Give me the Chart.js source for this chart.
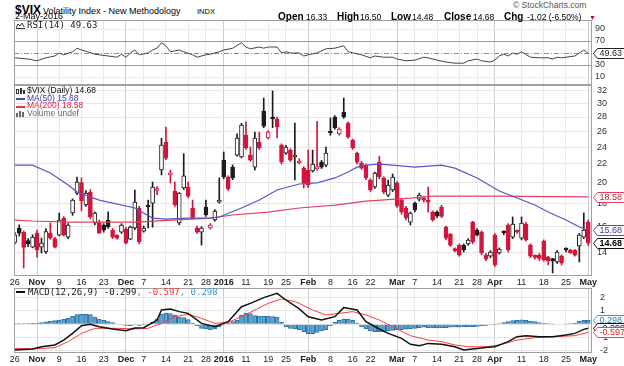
<!DOCTYPE html>
<html><head><meta charset="utf-8">
<script src="https://cdn.jsdelivr.net/npm/chart.js@4.4.1/dist/chart.umd.min.js"></script>
<style>
html,body{margin:0;padding:0;background:#fff;}
body{width:624px;height:366px;position:relative;overflow:hidden;font-family:"Liberation Sans",Arial,sans-serif;color:#000;}
canvas{position:absolute;left:0;}
.t{position:absolute;white-space:nowrap;}
.m{font-family:"DejaVu Sans Mono",monospace;}
.ib{display:inline-block;}
</style></head><body>
<canvas id="rsi" width="624" height="65" style="top:20px"></canvas>
<canvas id="main" width="624" height="205" style="top:85px"></canvas>
<canvas id="macd" width="624" height="78" style="top:288px"></canvas>

<div class="t" style="left:15px;top:1px;line-height:15px;">
 <span class="ib" style="width:28px;font-size:12px;font-weight:bold;">$VIX</span><span class="ib" style="width:154px;font-size:9px;">Volatility Index - New Methodology</span><span class="ib" style="font-size:7.5px;">INDX</span>
</div>
<div class="t" style="left:15px;top:11px;line-height:10px;font-size:9px;">2-May-2016</div>
<div class="t" style="left:513px;top:1px;line-height:9px;font-size:8.5px;color:#555;">© StockCharts.com</div>
<div class="t" style="left:278px;top:9px;line-height:12px;">
 <span class="ib" style="width:28px;font-size:10px;font-weight:bold;">Open</span><span class="ib" style="width:31px;font-size:8.5px;">16.33</span><span class="ib" style="width:23px;font-size:10px;font-weight:bold;">High</span><span class="ib" style="width:31px;font-size:8.5px;">16.50</span><span class="ib" style="width:21px;font-size:10px;font-weight:bold;">Low</span><span class="ib" style="width:32px;font-size:8.5px;">14.48</span><span class="ib" style="width:29px;font-size:10px;font-weight:bold;">Close</span><span class="ib" style="width:31px;font-size:8.5px;">14.68</span><span class="ib" style="width:23px;font-size:10px;font-weight:bold;">Chg</span><span class="ib" style="width:62px;font-size:8.5px;">-1.02 (-6.50%)</span><span class="ib" style="font-size:7px;color:#c0102a;">▼</span>
</div>

<svg style="position:absolute;left:16px;top:22px" width="10" height="7"><polyline points="0,6 2,2 4,4 6,1 8,5" fill="none" stroke="#333" stroke-width="1"/><line x1="0" y1="6.5" x2="9" y2="6.5" stroke="#333"/></svg>
<div class="t m" style="left:27px;top:20px;line-height:10px;font-size:9px;color:#222;">RSI(14) 49.63</div>

<svg style="position:absolute;left:16px;top:88px" width="10" height="7"><rect x="0.5" y="1.5" width="2" height="4" fill="#fff" stroke="#333" stroke-width="1"/><rect x="4" y="0" width="2" height="6" fill="#333"/><rect x="7" y="2" width="2" height="4" fill="#333"/></svg>
<div class="t" style="left:16px;top:98px;width:9px;height:1.5px;background:#4a4ac0;"></div>
<div class="t" style="left:16px;top:106px;width:9px;height:1.5px;background:#e0304e;"></div>
<svg style="position:absolute;left:16px;top:111px" width="10" height="6"><rect x="0" y="2" width="2" height="4" fill="#666"/><rect x="3" y="0" width="2" height="6" fill="#666"/><rect x="6" y="1" width="2" height="5" fill="#666"/></svg>
<div class="t" style="left:27px;top:87.3px;line-height:7.6px;font-size:8.5px;">
 <div style="color:#111;">$VIX (Daily) 14.68</div>
 <div style="color:#3a3ab0;">MA(50) 15.68</div>
 <div style="color:#e0203c;">MA(200) 18.58</div>
 <div style="color:#666;">Volume undef</div>
</div>

<div class="t" style="left:16px;top:291px;width:9px;height:1.5px;background:#111;"></div>
<div class="t m" style="left:28px;top:287px;line-height:10px;font-size:9px;"><span style="color:#222">MACD(12,26,9) -0.299</span><span style="color:#ff3030">, -0.597</span><span style="color:#3d9ad6">, 0.298</span></div>

<script>
// ---------- data ----------
const tickIdx    = [0,5,10,15,20,25,29,34,39,43,47,52,57,61,66,71,76,80,86,90,95,100,104,108,114,119,124,129];
const tickLabels = ['26','Nov','9','16','23','Dec','7','14','21','28','2016','11','19','25','Feb','8','16','22','Mar','7','14','21','28','Apr','11','18','25','May'];
const monthIdx   = [5,25,47,66,86,108,129];

const open  = [14.70,15.84,15.50,14.85,14.36,15.43,14.36,14.00,15.43,15.00,15.27,16.67,15.12,17.11,18.95,20.00,17.82,19.05,16.25,16.33,16.08,16.50,15.67,15.27,15.51,15.75,14.96,15.84,17.55,15.59,17.70,18.00,19.20,21.33,24.63,20.80,19.15,16.25,19.45,19.55,17.55,15.84,15.51,17.64,15.84,16.50,18.09,22.45,20.58,21.65,23.03,22.80,25.53,23.03,21.65,24.63,28.88,25.14,27.80,27.72,24.25,23.27,23.63,22.80,22.11,21.54,21.33,21.22,21.45,22.22,21.87,25.90,28.00,25.66,28.73,27.15,24.88,23.27,22.11,21.87,20.26,19.55,22.22,20.48,18.75,19.25,19.96,18.28,17.55,16.33,18.00,18.37,18.47,18.15,17.19,17.19,17.64,15.92,15.35,14.20,14.51,14.51,14.59,16.33,15.67,15.51,13.78,13.71,15.27,13.93,15.50,16.08,15.12,15.55,15.04,16.17,14.51,13.66,13.78,14.81,13.64,13.50,13.30,13.71,14.18,14.15,14.12,14.44,15.12,16.33];
const high  = [15.50,16.10,15.60,15.00,15.30,15.67,15.04,15.80,16.25,15.10,17.10,16.80,16.20,18.40,20.58,20.50,19.20,19.30,17.20,16.50,16.20,17.20,15.80,15.30,16.20,15.90,16.00,19.25,17.70,16.00,18.28,20.06,19.60,25.10,26.60,21.33,20.06,19.00,23.20,20.06,18.28,16.00,15.95,18.28,16.20,17.40,20.48,23.40,20.70,21.90,25.70,27.10,27.30,24.00,25.90,25.90,30.87,26.10,32.00,28.00,24.40,24.20,23.80,27.15,22.60,21.70,23.63,23.63,27.40,22.40,24.00,27.86,28.20,26.50,30.87,27.30,25.00,23.40,22.30,22.00,20.40,21.10,22.90,20.60,20.26,20.90,20.10,18.40,17.70,17.20,18.10,18.95,18.60,19.55,17.30,17.30,17.80,16.00,15.40,14.30,14.60,14.60,15.00,16.40,15.80,15.60,13.90,14.10,15.40,14.30,15.60,16.20,16.76,15.70,16.76,16.30,14.60,13.80,13.90,14.90,13.70,13.55,14.10,13.80,14.30,14.20,14.20,15.40,17.11,16.50];
const low   = [14.60,15.20,12.90,14.40,14.30,13.64,13.93,13.90,14.95,14.30,15.20,15.20,15.00,16.90,18.80,17.30,17.70,16.60,16.10,15.40,15.50,15.80,15.00,14.95,15.40,14.60,14.90,15.70,14.60,15.50,15.84,15.90,18.80,20.80,22.50,19.96,17.70,16.10,19.30,18.50,16.60,15.40,14.51,16.80,15.75,16.40,18.00,20.40,19.20,20.30,22.90,22.70,23.70,22.30,21.30,23.70,26.50,25.00,26.50,25.14,22.00,23.10,22.30,20.26,22.00,19.45,19.50,21.10,21.30,21.50,21.70,25.50,26.30,25.50,27.80,25.10,23.70,22.00,21.40,20.30,19.10,19.40,20.40,18.90,18.60,19.10,17.60,17.00,16.50,16.08,17.20,18.20,18.10,17.19,16.40,16.70,16.70,14.90,14.40,14.00,13.70,14.00,14.50,14.60,15.20,13.80,13.40,13.60,13.00,13.85,15.30,14.00,15.00,15.40,14.90,14.80,13.60,13.50,13.40,13.35,13.10,12.58,13.20,13.10,14.00,13.90,13.70,13.30,15.00,14.48];
const close = [15.30,15.43,14.33,14.61,15.12,14.15,14.66,15.55,15.04,14.36,16.50,15.27,16.08,18.28,20.06,18.20,18.95,16.76,17.11,15.43,15.67,15.92,15.12,15.04,16.08,14.66,15.92,18.09,14.74,15.84,17.64,19.55,19.30,24.25,22.68,20.90,17.82,18.95,20.69,18.66,16.67,15.51,15.84,16.93,16.08,17.28,18.19,20.58,19.35,20.48,25.14,26.87,23.88,22.45,25.14,23.88,26.73,25.92,27.72,26.60,22.22,24.00,22.45,23.03,22.34,19.96,19.75,21.99,21.60,21.65,23.27,25.79,26.46,26.33,28.00,25.27,23.88,22.22,21.54,20.48,19.25,21.00,20.58,19.05,19.75,20.58,17.73,17.19,16.67,17.11,17.37,18.75,18.28,18.09,16.50,16.85,16.80,15.04,14.51,14.10,13.78,14.15,14.89,14.74,15.27,13.93,13.50,14.00,13.10,14.22,15.45,14.15,16.17,15.50,16.25,14.89,13.71,13.62,13.55,13.44,13.38,13.40,14.00,13.23,14.15,13.93,13.78,15.27,15.67,14.68];

const ma50Idx  = [0,4,8,12,14,19,27,31,34,39,44,46,51,55,59,64,68,72,75,77,79,82,85,90,96,99,104,109,117,120,124,127,129];
const ma50Val  = [21.87,21.87,21.0,19.75,19.05,18.28,17.55,16.67,16.58,16.67,16.67,16.76,17.55,18.28,19.25,19.85,19.96,20.48,21.11,21.65,21.87,21.99,21.87,21.65,21.87,21.54,20.48,19.15,17.82,17.19,16.5,15.92,15.68];
const ma200Idx = [0,4,12,27,44,49,57,64,72,79,89,94,109,120,129];
const ma200Val = [16.5,16.42,16.33,16.33,16.67,16.93,17.19,17.55,17.82,18.19,18.47,18.66,18.66,18.6,18.58];

const rsiIdx = [0,3,5,7,9,10,11,13,14,15,16,18,19,21,23,24,25,26,27,28,30,31,32,33,34,35,37,38,40,41,43,44,46,47,49,51,52,53,55,56,57,59,60,61,62,64,65,66,68,70,72,74,75,78,80,81,83,85,86,88,90,92,93,95,97,99,101,102,104,105,107,108,109,110,111,112,113,114,116,118,120,121,122,123,124,126,127,128,129];
const rsiVal = [42,40,37,42,45,50,47,52,58,55,53,48,47,45,43,48,43,50,55,47,50,55,58,67,62,52,55,52,47,43,47,48,52,55,58,67,60,57,60,58,60,60,50,52,50,50,45,47,50,57,58,62,52,47,42,45,43,43,40,37,38,43,42,38,35,33,33,37,40,37,35,38,45,48,45,50,48,52,43,42,42,40,43,42,43,45,50,55,49.63];

const macdIdx = [0,4,6,9,11,13,15,17,19,22,25,27,29,32,33,35,37,39,42,45,48,51,53,56,59,61,64,66,69,72,74,77,79,82,84,87,89,91,93,96,99,101,103,106,108,111,113,115,118,121,124,126,128,129];
const macdVal = [-1.93,-1.85,-1.68,-1.55,-1.18,-0.68,-0.1,0.0,-0.18,-0.35,-0.48,-0.28,-0.25,0.32,1.07,1.15,0.95,0.82,0.07,-0.18,0.2,1.32,1.57,2.0,2.32,1.82,1.15,0.57,0.32,0.57,1.25,1.07,0.2,-0.35,-0.68,-1.05,-1.5,-1.6,-1.43,-1.5,-1.68,-1.93,-1.85,-1.73,-1.68,-1.3,-0.93,-0.85,-0.93,-0.93,-0.8,-0.68,-0.38,-0.299];
const sigIdx = [0,4,9,12,15,18,23,27,30,33,36,39,42,45,48,51,54,57,60,63,64,67,70,73,76,79,82,85,89,93,96,99,102,106,109,113,117,121,126,129];
const sigVal = [-1.8,-1.85,-1.75,-1.3,-0.68,-0.3,-0.3,-0.35,-0.3,0.07,0.57,0.75,0.45,0.07,0.15,0.57,1.07,1.57,1.9,1.7,1.57,1.07,0.7,0.82,0.95,0.7,0.32,-0.18,-0.85,-1.18,-1.3,-1.55,-1.68,-1.68,-1.55,-1.18,-1.0,-0.93,-0.85,-0.597];
const hist = [0.05,0.05,0.05,0.05,0.07,0.08,0.12,0.18,0.22,0.28,0.32,0.38,0.45,0.6,0.72,0.75,0.75,0.72,0.55,0.4,0.3,0.2,0.12,0.02,-0.05,-0.08,-0.1,-0.05,-0.08,-0.02,0.0,0.15,0.4,0.75,0.85,0.8,0.7,0.55,0.5,0.35,0.1,-0.1,-0.3,-0.35,-0.4,-0.35,-0.2,-0.05,0.1,0.2,0.3,0.7,0.85,0.8,0.65,0.62,0.6,0.6,0.58,0.55,0.15,-0.2,-0.3,-0.35,-0.4,-0.55,-0.7,-0.7,-0.6,-0.5,-0.4,-0.1,0.15,0.3,0.4,0.38,0.3,0.1,-0.2,-0.35,-0.5,-0.55,-0.55,-0.55,-0.5,-0.45,-0.4,-0.4,-0.37,-0.33,-0.3,-0.25,-0.22,-0.25,-0.28,-0.28,-0.25,-0.25,-0.22,-0.2,-0.22,-0.2,-0.18,-0.18,-0.15,-0.1,-0.08,-0.05,-0.02,0.05,0.12,0.2,0.28,0.3,0.33,0.3,0.25,0.2,0.12,0.08,0.05,0.02,0.0,0.0,0.02,0.05,0.1,0.25,0.3,0.298];

const priceTicks = [14,16,18,20,22,24,26,28,30,32];
const rsiTicks = [10,30,50,70,90];
const macdTicks = [-2,-1,0,1,2];

// ---------- helpers ----------
const FONT = '"Liberation Sans", Arial, sans-serif';
const XMIN = -0.18, XMAX = 129.85;
const RED = '#d4143c', BLK = '#1c1c1c';

function pts(ix, vals){ return ix.map((x,k)=>({x:x, y:vals[k]})); }

function xAxis(showLabels, h){
  return {
    type:'linear', min:XMIN, max:XMAX, offset:false,
    afterBuildTicks(a){ a.ticks = tickIdx.map(v=>({value:v})); },
    afterFit(a){ a.height=h; a.paddingLeft=0; a.paddingRight=0; },
    grid:{ color:(c)=> (c.tick && monthIdx.includes(c.tick.value)) ? '#cdcdcd' : '#e9e9e9', drawTicks:false, offset:false, lineWidth:1 },
    border:{display:false},
    ticks:{ display:showLabels, autoSkip:false, maxRotation:0, minRotation:0, padding:1, color:'#222',
      font:(c)=>({family:FONT, size:9, weight:(c.tick && monthIdx.includes(c.tick.value)) ? 'bold' : 'normal'}),
      callback:(v)=>{ const k = tickIdx.indexOf(v); return k>=0 ? tickLabels[k] : ''; } }
  };
}
function yAxis(type, min, max, ticks, gridFn, pad, hide){
  return {
    type, position:'right', min, max,
    afterBuildTicks(a){ a.ticks = ticks.map(v=>({value:v})); },
    afterFit(a){ a.width=32; a.paddingTop=0; a.paddingBottom=0; },
    grid:{ color:gridFn, drawTicks:false },
    border:{display:false},
    ticks:{ autoSkip:false, padding:pad, color:'#333', font:{family:FONT,size:9}, callback:(v)=> (hide===v ? '' : String(v)) }
  };
}
function drawTag(ctx, x, y, text, border, color, bold){
  ctx.font = (bold?'bold ':'') + '9px ' + FONT;
  const w = Math.ceil(ctx.measureText(text).width) + 5;
  const h = 10, yy = Math.round(y)+0.5, xx = Math.round(x)+0.5;
  ctx.beginPath();
  ctx.moveTo(xx, yy); ctx.lineTo(xx+4, yy-h/2); ctx.lineTo(xx+4+w, yy-h/2);
  ctx.lineTo(xx+4+w, yy+h/2); ctx.lineTo(xx+4, yy+h/2); ctx.closePath();
  ctx.fillStyle='#fff'; ctx.fill();
  ctx.setLineDash([]); ctx.strokeStyle=border; ctx.lineWidth=1; ctx.stroke();
  ctx.fillStyle=color; ctx.textAlign='left'; ctx.textBaseline='middle';
  ctx.fillText(text, xx+6, yy+0.5);
}
const framePlugin = {
  id:'frame',
  beforeDatasetsDraw(chart, args, opts){
    if (opts.dash == null) return;
    const {ctx, chartArea:a, scales} = chart;
    const y = Math.round(scales.y.getPixelForValue(opts.dash))+0.5;
    ctx.save(); ctx.strokeStyle='#8c8c8c'; ctx.lineWidth=1; ctx.setLineDash([5,2,1,2]);
    ctx.beginPath(); ctx.moveTo(a.left,y); ctx.lineTo(a.right,y); ctx.stroke(); ctx.restore();
  },
  afterDraw(chart, args, opts){
    const {ctx, chartArea:a, scales} = chart;
    ctx.save();
    ctx.strokeStyle='#a0a0a0'; ctx.lineWidth=1; ctx.setLineDash([]);
    ctx.strokeRect(Math.round(a.left)+0.5, Math.round(a.top)+0.5, Math.round(a.right-a.left)-1, Math.round(a.bottom-a.top)-1);
    (opts.tags||[]).forEach(t=>drawTag(ctx, a.right+1, scales.y.getPixelForValue(t.v), t.text, t.border, t.color, t.bold));
    ctx.restore();
  }
};
const base = { responsive:false, animation:false, devicePixelRatio:1, events:[],
  layout:{padding:{left:14,right:0,top:0,bottom:0}} };

// ---------- candles ----------
const bodyData=[], wickData=[], bodyFill=[], bodyLine=[];
for (let i=0;i<close.length;i++){
  const up = i===0 ? true : close[i] >= close[i-1];
  const col = up ? BLK : RED;
  bodyData.push({x:i, y:[Math.min(open[i],close[i]), Math.max(open[i],close[i])]});
  wickData.push({x:i, y:[low[i], high[i]]});
  bodyFill.push(close[i] >= open[i] ? '#ffffff' : col);
  bodyLine.push(col);
}

// ---------- RSI ----------
new Chart(document.getElementById('rsi'), {
  type:'line',
  data:{ datasets:[{ data:pts(rsiIdx,rsiVal), borderColor:'#444', borderWidth:1, pointRadius:0, tension:0 }] },
  options:Object.assign({}, base, {
    scales:{ x:xAxis(false,0),
      y:yAxis('linear', -3.33, 105, rsiTicks, (c)=>{const v=c.tick&&c.tick.value; return (v===70||v===30)?'#9a9a9a':(v===50?'rgba(0,0,0,0)':'#ececec');}, 3, 50) },
    plugins:{ legend:{display:false}, tooltip:{enabled:false},
      frame:{ dash:50, tags:[{v:49.63,text:'49.63',border:'#222',color:'#222'}] } }
  }),
  plugins:[framePlugin]
});

// ---------- Price ----------
new Chart(document.getElementById('main'), {
  type:'bar',
  data:{ datasets:[
    { type:'line', data:pts(ma50Idx,ma50Val), borderColor:'#5656c8', borderWidth:1.2, pointRadius:0, tension:0, order:0 },
    { type:'line', data:pts(ma200Idx,ma200Val), borderColor:'#e2425e', borderWidth:1.2, pointRadius:0, tension:0, order:0 },
    { type:'bar', data:bodyData, backgroundColor:bodyFill, borderColor:bodyLine, borderWidth:1, borderSkipped:false, barThickness:4, grouped:false, minBarLength:2, order:1 },
    { type:'bar', data:wickData, backgroundColor:bodyLine, borderWidth:0, barThickness:1, grouped:false, order:2 }
  ]},
  options:Object.assign({}, base, {
    scales:{ x:xAxis(true,14),
      y:yAxis('logarithmic', 12.38, 33.0, priceTicks, ()=> '#e6e6e6', 5, null) },
    plugins:{ legend:{display:false}, tooltip:{enabled:false},
      frame:{ tags:[
        {v:18.58,text:'18.58',border:'#e2425e',color:'#c0203c'},
        {v:15.68,text:'15.68',border:'#4a4ac0',color:'#3a3ab0'},
        {v:14.68,text:'14.68',border:'#111',color:'#000',bold:true} ] } }
  }),
  plugins:[framePlugin]
});

// ---------- MACD ----------
new Chart(document.getElementById('macd'), {
  type:'bar',
  data:{ datasets:[
    { type:'line', data:pts(macdIdx,macdVal), borderColor:'#111', borderWidth:1.5, pointRadius:0, tension:0, order:0 },
    { type:'line', data:pts(sigIdx,sigVal), borderColor:'#ff3b3b', borderWidth:1, pointRadius:0, tension:0, order:0 },
    { type:'bar', data:hist.map((v,i)=>({x:i,y:v})), backgroundColor:'#5aa5d6', borderColor:'#2d6f9e', borderWidth:1, barThickness:4, grouped:false, order:1 }
  ]},
  options:Object.assign({}, base, {
    scales:{ x:xAxis(true,13),
      y:yAxis('linear', -2.15, 2.72, macdTicks, ()=> '#e6e6e6', 8, 0) },
    plugins:{ legend:{display:false}, tooltip:{enabled:false},
      frame:{ tags:[
        {v:0.298,text:'0.298',border:'#3d9ad6',color:'#2d7ab6'},
        {v:-0.299,text:'-0.299',border:'#111',color:'#111'},
        {v:-0.597,text:'-0.597',border:'#ff3b3b',color:'#e02020'} ] } }
  }),
  plugins:[framePlugin]
});
</script>
</body></html>
